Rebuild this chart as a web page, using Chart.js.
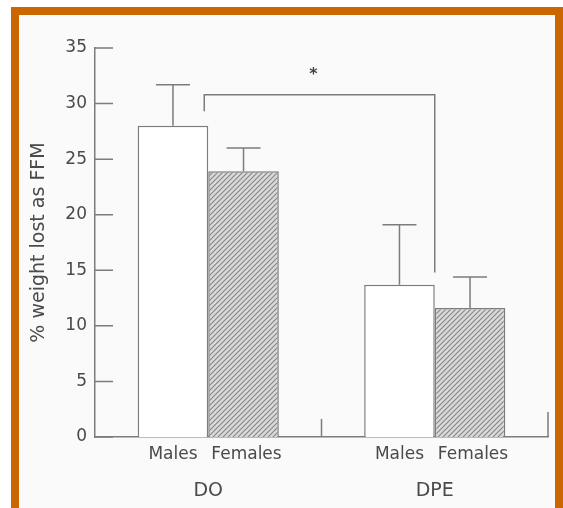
<!DOCTYPE html>
<html>
<head>
<meta charset="utf-8">
<script src="https://cdn.jsdelivr.net/npm/chart.js@4.4.1/dist/chart.umd.min.js"></script>
<style>
html, body { margin: 0; padding: 0; background: #fff; overflow: hidden; width: 563px; height: 508px; }
#frame { position: absolute; left: 11px; top: 7px; width: 536px; height: 520px; border: 8px solid #cc6600; border-bottom: none; background: #fafafa; }
#wrap { position: absolute; left: 0; top: 0; width: 563px; height: 508px; }
</style>
</head>
<body>
<div id="frame"></div>
<div id="wrap"><canvas id="mygraph"></canvas></div>
<script>
// Data
const groups = ['DO', 'DPE'];
const sexes = ['Males', 'Females'];
const males_mean = [28.0, 13.7];
const females_mean = [23.9, 11.6];
// upper error bars (SD)
const males_sd = [3.7, 5.4];
const females_sd = [2.1, 2.8];
// significance bracket between groups
const bracket_level = 30.8;
const bracket_ends = [29.3, 14.8];
const bracket_mark = '*';
const y_ticks = [0, 5, 10, 15, 20, 25, 30, 35];

const line_colour = '#7c7c7c';
const text_colour = '#4a4a4a';
const font_family = '"DejaVu Sans", Arial, sans-serif';

// Diagonal hatching for the female bars
function hatch(){
    const c = document.createElement('canvas');
    c.width = 5; c.height = 5;
    const g = c.getContext('2d');
    g.fillStyle = '#dadada';
    g.fillRect(0, 0, 5, 5);
    g.strokeStyle = '#858585';
    g.lineWidth = 1.1;
    g.beginPath();
    g.moveTo(0, 5); g.lineTo(5, 0);
    g.moveTo(-1, 1); g.lineTo(1, -1);
    g.moveTo(4, 6); g.lineTo(6, 4);
    g.stroke();
    return g.createPattern(c, 'repeat');
}

const sds = [males_sd, females_sd];

// Draws error bars, inner ticks, bracket and the Males/Females labels
const extras = {
    id: 'extras',
    afterDatasetsDraw(chart){
        const ctx = chart.ctx;
        const xs = chart.scales.x, ys = chart.scales.y;
        const area = chart.chartArea;
        ctx.save();
        ctx.strokeStyle = line_colour;
        ctx.lineWidth = 1.5;

        // error bars
        chart.data.datasets.forEach((ds, i) => {
            const meta = chart.getDatasetMeta(i);
            meta.data.forEach((bar, j) => {
                const top = ys.getPixelForValue(ds.data[j] + sds[i][j]);
                ctx.beginPath();
                ctx.moveTo(bar.x, bar.y);
                ctx.lineTo(bar.x, top);
                ctx.moveTo(bar.x - 17, top);
                ctx.lineTo(bar.x + 17, top);
                ctx.stroke();
            });
        });

        // y ticks pointing inward
        ctx.beginPath();
        y_ticks.forEach(v => {
            const py = ys.getPixelForValue(v);
            ctx.moveTo(area.left, py);
            ctx.lineTo(area.left + 18, py);
        });
        // x ticks: category boundary and right end
        const mid = xs.getPixelForValue(0.5);
        ctx.moveTo(mid, area.bottom);
        ctx.lineTo(mid, area.bottom - 18);
        ctx.moveTo(area.right, area.bottom);
        ctx.lineTo(area.right, area.bottom - 25);
        ctx.stroke();

        // significance bracket
        const bx0 = xs.getPixelForValue(0) - 4;
        const bx1 = xs.getPixelForValue(1);
        const by = ys.getPixelForValue(bracket_level);
        ctx.beginPath();
        ctx.moveTo(bx0, ys.getPixelForValue(bracket_ends[0]));
        ctx.lineTo(bx0, by);
        ctx.lineTo(bx1, by);
        ctx.lineTo(bx1, ys.getPixelForValue(bracket_ends[1]));
        ctx.stroke();

        ctx.fillStyle = '#444';
        ctx.font = 'bold 16px ' + font_family;
        ctx.textAlign = 'center';
        ctx.textBaseline = 'middle';
        ctx.fillText(bracket_mark, (bx0 + bx1) / 2 - 6, by - 20);

        // Males / Females under each bar
        ctx.fillStyle = text_colour;
        ctx.font = '17px ' + font_family;
        chart.data.datasets.forEach((ds, i) => {
            chart.getDatasetMeta(i).data.forEach(bar => {
                ctx.fillText(ds.label, bar.x + (i ? 3 : 0), area.bottom + 18);
            });
        });
        ctx.restore();
    }
};

const graph = document.getElementById('mygraph');
new Chart(graph, {
    type: 'bar',
    data: {
        labels: groups,
        datasets: [
            { label: sexes[0], data: males_mean, backgroundColor: '#ffffff', borderColor: line_colour, borderWidth: 1.5 },
            { label: sexes[1], data: females_mean, backgroundColor: hatch(), borderColor: line_colour, borderWidth: 1.5 }
        ]
    },
    options: {
        responsive: true,
        maintainAspectRatio: false,
        animation: false,
        categoryPercentage: 0.623,
        barPercentage: 1.0,
        layout: { padding: { left: 28, right: 15, top: 48, bottom: 0 } },
        plugins: { legend: { display: false }, tooltip: { enabled: false } },
        scales: {
            x: {
                type: 'category',
                offset: true,
                grid: { display: false, drawTicks: false },
                border: { display: true, color: line_colour, width: 1.5 },
                ticks: { padding: 43, color: text_colour, font: { family: font_family, size: 19 } },
                afterFit(s){ s.height = 71; }
            },
            y: {
                min: 0,
                max: 35,
                grid: { display: false, drawTicks: false },
                border: { display: true, color: line_colour, width: 1.5 },
                ticks: { stepSize: 5, padding: 8, color: text_colour, font: { family: font_family, size: 17 } },
                title: { display: true, text: '% weight lost as FFM', color: text_colour, padding: 0, font: { family: font_family, size: 19 } },
                afterFit(s){ s.width = 67; }
            }
        }
    },
    plugins: [extras]
});
</script>
</body>
</html>
